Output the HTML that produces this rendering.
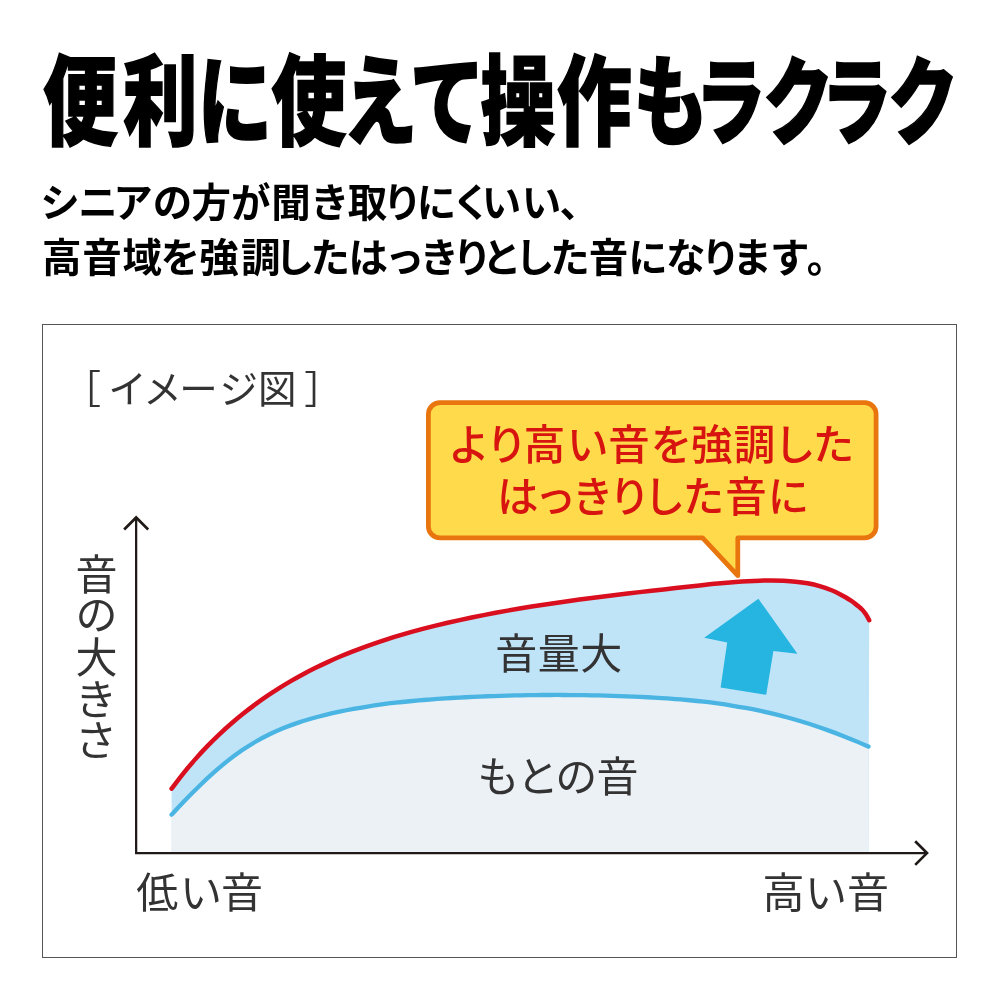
<!DOCTYPE html>
<html lang="ja"><head><meta charset="utf-8"><title>便利に使えて操作もラクラク</title>
<style>
html,body{margin:0;padding:0;background:#fff;}
svg{display:block;font-family:'Liberation Sans','Noto Sans CJK JP',sans-serif;}
text{white-space:pre;}
</style></head><body>
<svg width="1000" height="1000" viewBox="0 0 1000 1000">
<rect width="1000" height="1000" fill="#fff"/>
<text transform="translate(0 137.2) scale(0.765 1)" x="55.79 160.64 258.1 355.02 447.61 535.9 628.18 728.01 827.8" y="0" font-size="97.7" font-weight="900" fill="#000" stroke="#000" stroke-width="1.6" stroke-linejoin="miter">便利に使えて操作も</text>
<text transform="translate(0 136.5) scale(0.74 1)" x="939.55 1031 1109.82 1199.92" y="0" font-size="95.1" font-weight="900" fill="#000" stroke="#000" stroke-width="1.6" stroke-linejoin="miter">ラクラク</text>
<text transform="translate(0 216.6)" x="40.26 78.13 113.16 152.68 191.59 230.93 271.15 309.95 347.67 382.67 416.78 451.63 481.8 521.8 559.56" y="0" font-size="39.5" font-weight="700" fill="#000" >シニアの方が聞き取りにくいい、</text>
<text transform="translate(0 271.5)" x="42 82.23 122.61 160.53 199.35 241.07 274.74 310.61 348.55 384.95 419.45 452.42 481.93 514.99 550.36 588.73 628.28 665.97 700.92 732.46 770.05 806.86" y="0" font-size="39.5" font-weight="700" fill="#000" >高音域を強調したはっきりとした音になります。</text>
<rect x="42.5" y="324.5" width="914" height="633" fill="none" stroke="#555" stroke-width="1"/>
<path d="M171.6 788.61C173.6 786.02 179.6 778.01 183.6 773.06C187.6 768.1 191.6 763.4 195.6 758.88C199.6 754.36 203.6 750.06 207.6 745.94C211.6 741.81 215.6 737.89 219.6 734.12C223.6 730.34 227.6 726.75 231.6 723.29C235.6 719.82 239.6 716.52 243.6 713.32C247.6 710.13 251.6 707.08 255.6 704.13C259.6 701.18 263.6 698.36 267.6 695.65C271.6 692.93 275.6 690.33 279.6 687.82C283.6 685.32 287.6 682.92 291.6 680.61C295.6 678.3 299.6 676.09 303.6 673.95C307.6 671.81 311.6 669.77 315.6 667.79C319.6 665.82 323.6 663.92 327.6 662.09C331.6 660.26 335.6 658.49 339.6 656.79C343.6 655.08 347.6 653.44 351.6 651.86C355.6 650.27 359.6 648.75 363.6 647.27C367.6 645.8 371.6 644.38 375.6 643.01C379.6 641.64 383.6 640.32 387.6 639.04C391.6 637.77 395.6 636.54 399.6 635.35C403.6 634.16 407.6 633.01 411.6 631.9C415.6 630.79 419.6 629.72 423.6 628.68C427.6 627.64 431.6 626.63 435.6 625.65C439.6 624.67 443.6 623.73 447.6 622.8C451.6 621.88 455.6 620.98 459.6 620.1C463.6 619.23 467.6 618.38 471.6 617.54C475.6 616.71 479.6 615.91 483.6 615.12C487.6 614.33 491.6 613.56 495.6 612.81C499.6 612.06 503.6 611.34 507.6 610.63C511.6 609.92 515.6 609.22 519.6 608.55C523.6 607.87 527.6 607.22 531.6 606.57C535.6 605.93 539.6 605.3 543.6 604.69C547.6 604.08 551.6 603.48 555.6 602.9C559.6 602.31 563.6 601.74 567.6 601.18C571.6 600.62 575.6 600.08 579.6 599.54C583.6 599 587.6 598.48 591.6 597.96C595.6 597.45 599.6 596.94 603.6 596.44C607.6 595.94 611.6 595.45 615.6 594.97C619.6 594.48 623.6 594.01 627.6 593.54C631.6 593.07 635.6 592.6 639.6 592.14C643.6 591.68 647.6 591.22 651.6 590.77C655.6 590.32 659.6 589.87 663.6 589.42C667.6 588.97 671.6 588.52 675.6 588.08C679.6 587.63 683.6 587.18 687.6 586.74C691.6 586.29 695.6 585.84 699.6 585.4C703.6 584.96 707.6 584.52 711.6 584.11C715.6 583.7 719.6 583.29 723.6 582.93C727.6 582.56 731.6 582.21 735.6 581.91C739.6 581.61 743.6 581.34 747.6 581.13C751.6 580.91 755.6 580.74 759.6 580.64C763.6 580.53 767.6 580.48 771.6 580.5C775.6 580.53 779.6 580.6 783.6 580.79C787.6 580.98 791.6 581.22 795.6 581.64C799.6 582.06 803.6 582.57 807.6 583.31C811.6 584.05 815.6 584.93 819.6 586.09C823.6 587.24 828.2 588.91 831.6 590.25C835 591.59 837.6 592.93 840 594.14C842.4 595.35 844.17 596.4 846 597.5C847.83 598.59 849.5 599.7 851 600.71C852.5 601.73 853.67 602.58 855 603.59C856.33 604.59 857.83 605.76 859 606.75C860.17 607.73 861 608.45 862 609.5C863 610.55 864.17 611.95 865 613.04C865.83 614.14 866.3 614.88 867 616.08C867.7 617.27 868.83 619.54 869.2 620.23L868.5 853L171.7 853Z" fill="#bfe3f7"/>
<path d="M171.6 814.62C173.93 812.14 180.93 804.56 185.6 799.74C190.27 794.92 194.93 790.21 199.6 785.71C204.27 781.2 208.93 776.83 213.6 772.7C218.27 768.57 222.93 764.62 227.6 760.93C232.27 757.24 236.93 753.77 241.6 750.57C246.27 747.37 250.93 744.45 255.6 741.74C260.27 739.02 264.93 736.57 269.6 734.29C274.27 732.01 278.93 729.97 283.6 728.06C288.27 726.15 292.93 724.45 297.6 722.86C302.27 721.26 306.93 719.84 311.6 718.51C316.27 717.17 320.93 715.97 325.6 714.83C330.27 713.69 334.93 712.64 339.6 711.65C344.27 710.66 348.93 709.75 353.6 708.89C358.27 708.03 362.93 707.25 367.6 706.51C372.27 705.77 376.93 705.09 381.6 704.46C386.27 703.83 390.93 703.25 395.6 702.72C400.27 702.18 404.93 701.69 409.6 701.24C414.27 700.78 418.93 700.37 423.6 699.99C428.27 699.6 432.93 699.25 437.6 698.93C442.27 698.6 446.93 698.3 451.6 698.02C456.27 697.74 460.93 697.48 465.6 697.24C470.27 697 474.93 696.78 479.6 696.58C484.27 696.38 488.93 696.19 493.6 696.03C498.27 695.87 502.93 695.73 507.6 695.6C512.27 695.48 516.93 695.37 521.6 695.29C526.27 695.2 530.93 695.13 535.6 695.08C540.27 695.03 544.93 695 549.6 694.98C554.27 694.97 558.93 694.97 563.6 694.99C568.27 695.02 572.93 695.05 577.6 695.11C582.27 695.17 586.93 695.24 591.6 695.33C596.27 695.42 600.93 695.53 605.6 695.65C610.27 695.77 614.93 695.91 619.6 696.07C624.27 696.23 628.93 696.4 633.6 696.59C638.27 696.79 642.93 697 647.6 697.24C652.27 697.48 656.93 697.75 661.6 698.05C666.27 698.35 670.93 698.67 675.6 699.04C680.27 699.41 684.93 699.81 689.6 700.26C694.27 700.71 698.93 701.19 703.6 701.73C708.27 702.26 712.93 702.84 717.6 703.47C722.27 704.11 726.93 704.79 731.6 705.54C736.27 706.28 740.93 707.08 745.6 707.94C750.27 708.8 754.93 709.73 759.6 710.72C764.27 711.71 768.93 712.77 773.6 713.9C778.27 715.04 782.93 716.24 787.6 717.51C792.27 718.79 796.93 720.13 801.6 721.55C806.27 722.96 810.93 724.45 815.6 726.01C820.27 727.56 824.93 729.19 829.6 730.88C834.27 732.58 838.93 734.34 843.6 736.17C848.27 738.01 853.45 740.14 857.6 741.88C861.75 743.62 866.68 745.82 868.5 746.6L868.5 853L171.7 853Z" fill="#ecf1f6"/>
<path d="M171.6 814.62C173.93 812.14 180.93 804.56 185.6 799.74C190.27 794.92 194.93 790.21 199.6 785.71C204.27 781.2 208.93 776.83 213.6 772.7C218.27 768.57 222.93 764.62 227.6 760.93C232.27 757.24 236.93 753.77 241.6 750.57C246.27 747.37 250.93 744.45 255.6 741.74C260.27 739.02 264.93 736.57 269.6 734.29C274.27 732.01 278.93 729.97 283.6 728.06C288.27 726.15 292.93 724.45 297.6 722.86C302.27 721.26 306.93 719.84 311.6 718.51C316.27 717.17 320.93 715.97 325.6 714.83C330.27 713.69 334.93 712.64 339.6 711.65C344.27 710.66 348.93 709.75 353.6 708.89C358.27 708.03 362.93 707.25 367.6 706.51C372.27 705.77 376.93 705.09 381.6 704.46C386.27 703.83 390.93 703.25 395.6 702.72C400.27 702.18 404.93 701.69 409.6 701.24C414.27 700.78 418.93 700.37 423.6 699.99C428.27 699.6 432.93 699.25 437.6 698.93C442.27 698.6 446.93 698.3 451.6 698.02C456.27 697.74 460.93 697.48 465.6 697.24C470.27 697 474.93 696.78 479.6 696.58C484.27 696.38 488.93 696.19 493.6 696.03C498.27 695.87 502.93 695.73 507.6 695.6C512.27 695.48 516.93 695.37 521.6 695.29C526.27 695.2 530.93 695.13 535.6 695.08C540.27 695.03 544.93 695 549.6 694.98C554.27 694.97 558.93 694.97 563.6 694.99C568.27 695.02 572.93 695.05 577.6 695.11C582.27 695.17 586.93 695.24 591.6 695.33C596.27 695.42 600.93 695.53 605.6 695.65C610.27 695.77 614.93 695.91 619.6 696.07C624.27 696.23 628.93 696.4 633.6 696.59C638.27 696.79 642.93 697 647.6 697.24C652.27 697.48 656.93 697.75 661.6 698.05C666.27 698.35 670.93 698.67 675.6 699.04C680.27 699.41 684.93 699.81 689.6 700.26C694.27 700.71 698.93 701.19 703.6 701.73C708.27 702.26 712.93 702.84 717.6 703.47C722.27 704.11 726.93 704.79 731.6 705.54C736.27 706.28 740.93 707.08 745.6 707.94C750.27 708.8 754.93 709.73 759.6 710.72C764.27 711.71 768.93 712.77 773.6 713.9C778.27 715.04 782.93 716.24 787.6 717.51C792.27 718.79 796.93 720.13 801.6 721.55C806.27 722.96 810.93 724.45 815.6 726.01C820.27 727.56 824.93 729.19 829.6 730.88C834.27 732.58 838.93 734.34 843.6 736.17C848.27 738.01 853.45 740.14 857.6 741.88C861.75 743.62 866.68 745.82 868.5 746.6" fill="none" stroke="#4ab4e3" stroke-width="4.3" stroke-linecap="round"/>
<path d="M171.6 788.61C173.6 786.02 179.6 778.01 183.6 773.06C187.6 768.1 191.6 763.4 195.6 758.88C199.6 754.36 203.6 750.06 207.6 745.94C211.6 741.81 215.6 737.89 219.6 734.12C223.6 730.34 227.6 726.75 231.6 723.29C235.6 719.82 239.6 716.52 243.6 713.32C247.6 710.13 251.6 707.08 255.6 704.13C259.6 701.18 263.6 698.36 267.6 695.65C271.6 692.93 275.6 690.33 279.6 687.82C283.6 685.32 287.6 682.92 291.6 680.61C295.6 678.3 299.6 676.09 303.6 673.95C307.6 671.81 311.6 669.77 315.6 667.79C319.6 665.82 323.6 663.92 327.6 662.09C331.6 660.26 335.6 658.49 339.6 656.79C343.6 655.08 347.6 653.44 351.6 651.86C355.6 650.27 359.6 648.75 363.6 647.27C367.6 645.8 371.6 644.38 375.6 643.01C379.6 641.64 383.6 640.32 387.6 639.04C391.6 637.77 395.6 636.54 399.6 635.35C403.6 634.16 407.6 633.01 411.6 631.9C415.6 630.79 419.6 629.72 423.6 628.68C427.6 627.64 431.6 626.63 435.6 625.65C439.6 624.67 443.6 623.73 447.6 622.8C451.6 621.88 455.6 620.98 459.6 620.1C463.6 619.23 467.6 618.38 471.6 617.54C475.6 616.71 479.6 615.91 483.6 615.12C487.6 614.33 491.6 613.56 495.6 612.81C499.6 612.06 503.6 611.34 507.6 610.63C511.6 609.92 515.6 609.22 519.6 608.55C523.6 607.87 527.6 607.22 531.6 606.57C535.6 605.93 539.6 605.3 543.6 604.69C547.6 604.08 551.6 603.48 555.6 602.9C559.6 602.31 563.6 601.74 567.6 601.18C571.6 600.62 575.6 600.08 579.6 599.54C583.6 599 587.6 598.48 591.6 597.96C595.6 597.45 599.6 596.94 603.6 596.44C607.6 595.94 611.6 595.45 615.6 594.97C619.6 594.48 623.6 594.01 627.6 593.54C631.6 593.07 635.6 592.6 639.6 592.14C643.6 591.68 647.6 591.22 651.6 590.77C655.6 590.32 659.6 589.87 663.6 589.42C667.6 588.97 671.6 588.52 675.6 588.08C679.6 587.63 683.6 587.18 687.6 586.74C691.6 586.29 695.6 585.84 699.6 585.4C703.6 584.96 707.6 584.52 711.6 584.11C715.6 583.7 719.6 583.29 723.6 582.93C727.6 582.56 731.6 582.21 735.6 581.91C739.6 581.61 743.6 581.34 747.6 581.13C751.6 580.91 755.6 580.74 759.6 580.64C763.6 580.53 767.6 580.48 771.6 580.5C775.6 580.53 779.6 580.6 783.6 580.79C787.6 580.98 791.6 581.22 795.6 581.64C799.6 582.06 803.6 582.57 807.6 583.31C811.6 584.05 815.6 584.93 819.6 586.09C823.6 587.24 828.2 588.91 831.6 590.25C835 591.59 837.6 592.93 840 594.14C842.4 595.35 844.17 596.4 846 597.5C847.83 598.59 849.5 599.7 851 600.71C852.5 601.73 853.67 602.58 855 603.59C856.33 604.59 857.83 605.76 859 606.75C860.17 607.73 861 608.45 862 609.5C863 610.55 864.17 611.95 865 613.04C865.83 614.14 866.3 614.88 867 616.08C867.7 617.27 868.83 619.54 869.2 620.23" fill="none" stroke="#d90f1f" stroke-width="4.5" stroke-linecap="round"/>
<path d="M136.15 517.5V853.1H927" fill="none" stroke="#1f1a17" stroke-width="2.25" stroke-linejoin="miter"/>
<path d="M124.15 529.5L136.15 517.5L148.15 529.5" fill="none" stroke="#1f1a17" stroke-width="2.7" stroke-linejoin="miter"/>
<path d="M915.2 841.3L927 853.1L915.2 864.9" fill="none" stroke="#1f1a17" stroke-width="2.7" stroke-linejoin="miter"/>
<path d="M758.4 598.8L704.2 637.8L727.2 642.4L720.6 687.6L766.2 694.8L773.4 651L797.4 653.7Z" fill="#26b5e0"/>
<path d="M439.9 402.6H864.6A11.5 11.5 0 0 1 876.1 414.1V526.4A11.5 11.5 0 0 1 864.6 537.9H737.8V575.7L702.6 537.9H439.9A11.5 11.5 0 0 1 428.4 526.4V414.1A11.5 11.5 0 0 1 439.9 402.6Z" fill="#ffda4a" stroke="#e8750d" stroke-width="4.75" stroke-linejoin="round"/>
<text transform="translate(0 459.5)" x="448.34 486.02 523.65 567.02 608.23 650.72 690.92 733.87 774.01 812.84" y="0" font-size="41.5" font-weight="500" fill="#d7140f" >より高い音を強調した</text>
<text transform="translate(0 511.5)" x="497.07 534.78 571.88 608.9 643.64 682.84 725.23 767.63" y="0" font-size="41.5" font-weight="500" fill="#d7140f" >はっきりした音に</text>
<text transform="translate(0 403)" x="62.45 108.28 143.28 179.27 219.56 257.99 304.15" y="0" font-size="38.5" font-weight="400" fill="#333" >［イメージ図］</text>
<text x="75.38 75.48 75.38 75 74.98" y="590.14 630.43 672.78 714.55 755.68" font-size="42" font-weight="400" fill="#333">音の大きさ</text>
<text transform="translate(0 908)" x="136.13 180.03 220.98" y="0" font-size="42" font-weight="400" fill="#333" >低い音</text>
<text transform="translate(0 908)" x="762.52 805.03 846.98" y="0" font-size="42" font-weight="400" fill="#333" >高い音</text>
<text transform="translate(0 669)" x="495.23 537.71 580.23" y="0" font-size="42" font-weight="400" fill="#333" >音量大</text>
<text transform="translate(0 791.5)" x="477.26 516.87 555.33 596.48" y="0" font-size="42" font-weight="400" fill="#333" >もとの音</text>
</svg>
</body></html>
